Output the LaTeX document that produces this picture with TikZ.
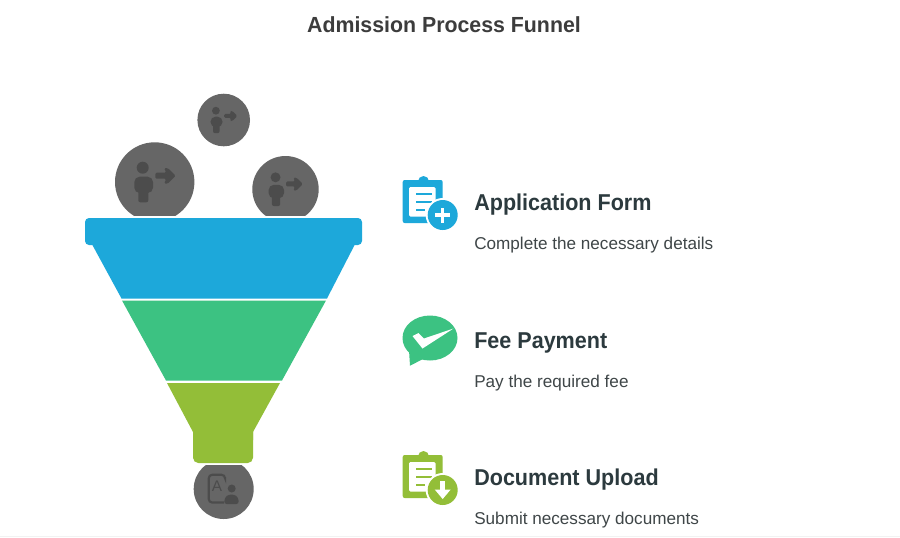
\documentclass[tikz,border=0pt]{standalone}
\usepackage{fontspec}
\setmainfont{Liberation Sans}
\newfontfamily\headfont[FakeStretch=0.94]{Liberation Sans}
\newfontfamily\titlefont[FakeStretch=0.975]{Liberation Sans}
\definecolor{cblue}{HTML}{1DA8DA}
\definecolor{cgreen}{HTML}{3CC282}
\definecolor{colive}{HTML}{93BE38}
\definecolor{cdisc}{HTML}{666666}
\definecolor{cglyph}{HTML}{4C4C4C}
\definecolor{ctitle}{HTML}{3C3C3C}
\definecolor{chead}{HTML}{2C3A3E}
\definecolor{csub}{HTML}{3F4648}
\tikzset{
  titletext/.style={anchor=center,text=ctitle,font=\titlefont\fontsize{16.4}{20}\bfseries\selectfont,inner sep=0pt},
  headtext/.style={anchor=west,text=chead,font=\headfont\fontsize{17.2}{20}\bfseries\selectfont,inner sep=0pt},
  subtext/.style={anchor=west,text=csub,font=\fontsize{12.85}{16}\selectfont,inner sep=0pt},
  disc/.style={fill=cdisc},
  glyph/.style={fill=cglyph},
  pics/personarrow/.style={code={
    \fill[glyph] (-12,-14.3) circle[radius=6];
    \fill[glyph,rounded corners=4] (-20.4,11) -- (-20.4,-5.3) -- (-1.7,-5.3) -- (-1.7,11) -- cycle;
    \fill[glyph,rounded corners=1.5] (-16.4,5) -- (-6.4,5) -- (-6.4,20.3) -- (-16.4,20.3) -- cycle;
    \fill[glyph,rounded corners=1] (0.6,-9.3) -- (11.5,-9.3) -- (9.5,-14) -- (13,-14) -- (21,-6.3) -- (13,1.7) -- (9.5,1.7) -- (11.5,-3.3) -- (0.6,-3.3) -- cycle;
  }},
  pics/clipboard/.style n args={1}{code={
    \fill[#1,rounded corners=1.5] (402.7,180) rectangle (442.7,223);
    \fill[#1] (416,181) rectangle (431,186);
    \fill[#1] (423.5,181.5) circle[radius=5.5];
    \fill[white,rounded corners=1] (409,187) rectangle (435.5,216.5);
    \fill[#1] (416,193.3) rectangle (432,195.3);
    \fill[#1] (416,201.3) rectangle (432,203.3);
    \fill[#1] (416,209.3) rectangle (425,211.3);
    \fill[white] (442.7,215) circle[radius=17];
    \fill[#1] (442.7,215) circle[radius=15];
  }}
}
\begin{document}
\begin{tikzpicture}[x=0.75pt,y=-0.75pt]
\useasboundingbox (0,0) rectangle (900,537);
\fill[white] (0,0) rectangle (900,537);
\fill[black!5] (0,536) rectangle (900,537);

% discs above the funnel
\begin{scope}
  \clip (100,80) rectangle (330,215);
  \fill[disc] (154.7,182) circle[radius=39.7];
  \fill[disc] (285.5,189.2) circle[radius=33.2];
\end{scope}
\fill[disc] (223.7,120) circle[radius=26.3];
\pic at (154.7,182) {personarrow};
\pic[scale=0.65] at (223.7,120) {personarrow};
\pic[scale=0.83] at (285.5,189.2) {personarrow};

% funnel
\fill[cblue,rounded corners=3] (85,218) rectangle (362,245);
\fill[cblue] (92.4,243) -- (354.6,243) -- (354.6,245) -- (327,298.5) -- (121.5,298.5) -- (92.4,245) -- cycle;
\fill[cgreen] (122,300.5) -- (326,300.5) -- (282,380.5) -- (166,380.5) -- cycle;
\fill[colive,rounded corners=4] (193,425) -- (253,425) -- (253,463) -- (193,463) -- cycle;
\fill[colive] (167,383) -- (280,383) -- (253,432) -- (253,440) -- (193,440) -- (193,432) -- cycle;

% disc below the funnel
\begin{scope}
  \clip (190,465) rectangle (260,525);
  \fill[disc] (223.7,489) circle[radius=30];
\end{scope}
\draw[cglyph,line width=1.6pt,rounded corners=2.5] (225,477) -- (225,474.8) -- (208.8,474.8) -- (208.8,502.5) -- (224,502.5);
\node[text=cglyph,inner sep=0pt,font=\fontsize{11.5}{12}\selectfont] (letterA) at (217,486) {A};
\fill[glyph] (231.7,488.5) circle[radius=4];
\fill[glyph,rounded corners=2] (224,504) -- (225,497) -- (229,494.5) -- (234,494.5) -- (238,497) -- (239,504) -- cycle;

% right-hand icons
\pic {clipboard={cblue}};
\fill[white] (441,207.5) rectangle (444.4,222.5);
\fill[white] (435.2,213.3) rectangle (450.2,216.7);

\fill[cgreen] (430,338) ellipse[x radius=27.5,y radius=22.5];
\fill[cgreen] (409,350) -- (410,365.7) -- (425,358) -- cycle;
\fill[white] (412.5,336) -- (418.5,333) -- (424,338.5) -- (453.5,328.5) -- (422.5,348.5) -- cycle;

\begin{scope}[yshift=-206.25pt]
  \pic {clipboard={colive}};
  \fill[white] (440.2,206) rectangle (445.2,216);
  \fill[white] (434.7,214.5) -- (450.7,214.5) -- (442.7,224) -- cycle;
\end{scope}

% text
\node[titletext] (title) at (444,25) {Admission Process Funnel};
\node[headtext] (h1) at (474,205) {Application Form};
\node[subtext] (s1) at (474,245.5) {Complete the necessary details};
\node[headtext] (h2) at (474,342.5) {Fee Payment};
\node[subtext] (s2) at (474,383.5) {Pay the required fee};
\node[headtext] (h3) at (474,480) {Document Upload};
\node[subtext] (s3) at (474,520.5) {Submit necessary documents};
\end{tikzpicture}
\end{document}
